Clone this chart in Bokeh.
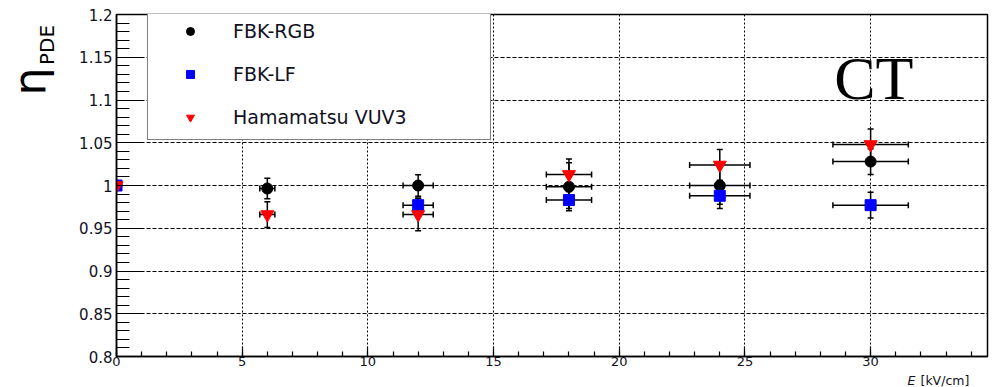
from math import pi

from bokeh.core.properties import value
from bokeh.embed import file_html
from bokeh.layouts import column, row
from bokeh.models import (ColumnDataSource, FixedTicker, Legend, LegendItem,
                          Range1d, TeeHead, Whisker)
from bokeh.plotting import figure
from bokeh.resources import INLINE

# Relative PDE vs drift field, normalised to the zero-field value
E_rgb = [0, 6, 12, 18, 24, 30]
pde_rgb = [1.0, 0.9965, 1.0, 0.9985, 1.0, 1.028]
err_rgb = [0.0, 0.012, 0.0125, 0.028, 0.027, 0.015]
xerr_rgb = [0.0, 0.3, 0.6, 0.9, 1.2, 1.5]

E_lf = [0, 12, 18, 24, 30]
pde_lf = [1.0, 0.977, 0.983, 0.988, 0.977]
err_lf = [0.0, 0.008, 0.01, 0.01, 0.015]
xerr_lf = [0.0, 0.6, 0.9, 1.2, 1.5]

E_vuv = [0, 6, 12, 18, 24, 30]
pde_vuv = [1.0, 0.966, 0.966, 1.013, 1.024, 1.048]
err_vuv = [0.0, 0.015, 0.019, 0.018, 0.018, 0.018]
xerr_vuv = [0.0, 0.3, 0.6, 0.9, 1.2, 1.5]

series_names = ["FBK-RGB", "FBK-LF", "Hamamatsu VUV3"]
x_ticks = [0, 5, 10, 15, 20, 25, 30]
y_ticks = [0.8, 0.85, 0.9, 0.95, 1.0, 1.05, 1.1, 1.15, 1.2]
y_tick_text = {0.8: "0.8", 0.85: "0.85", 0.9: "0.9", 0.95: "0.95", 1.0: "1",
               1.05: "1.05", 1.1: "1.1", 1.15: "1.15", 1.2: "1.2"}

FONT = "DejaVu Sans"
W, H = 1005, 387
LEFT_W = 60          # strip holding the vertical axis title
MAIN_H = 372         # main plot; the strip below holds the x-axis title


def blank_strip(width, height):
    f = figure(width=width, height=height, output_backend="svg", toolbar_location=None,
               x_range=Range1d(0, width), y_range=Range1d(0, height),
               x_axis_type=None, y_axis_type=None, min_border=0)
    f.outline_line_color = None
    f.background_fill_color = "white"
    f.border_fill_color = "white"
    return f


# ---- main plot -------------------------------------------------------------
p = figure(width=W - LEFT_W, height=MAIN_H, output_backend="svg", toolbar_location=None,
           x_range=Range1d(0, 34.65), y_range=Range1d(0.8, 1.2),
           min_border_left=56, min_border_right=18, min_border_top=14,
           min_border_bottom=16)
p.background_fill_color = "white"
p.border_fill_color = "white"
p.outline_line_color = "black"
p.outline_line_width = 1.5

# ROOT style axes: ticks pointing inward
p.xaxis.ticker = FixedTicker(ticks=x_ticks, minor_ticks=list(range(0, 35)))
p.yaxis.ticker = FixedTicker(ticks=y_ticks,
                             minor_ticks=[round(0.8 + 0.01 * i, 2) for i in range(41)])
p.yaxis.major_label_overrides = y_tick_text
for ax in (p.xaxis, p.yaxis):
    ax.axis_line_color = "black"
    ax.axis_line_width = 1.5
    ax.major_tick_line_color = "black"
    ax.minor_tick_line_color = "black"
    ax.major_tick_line_width = 1.2
    ax.minor_tick_line_width = 1.2
    ax.major_tick_out = 0
    ax.minor_tick_out = 0
    ax.major_label_text_font = FONT
    ax.major_label_text_color = "#111122"
p.xaxis.major_label_text_font_size = "13px"
p.yaxis.major_label_text_font_size = "15px"
p.xaxis.major_tick_in = 10
p.xaxis.minor_tick_in = 5
p.xaxis.major_label_standoff = 0
p.yaxis.major_tick_in = 27
p.yaxis.minor_tick_in = 13
p.yaxis.major_label_standoff = 4

p.xgrid.grid_line_color = "black"
p.xgrid.grid_line_dash = "2 2"
p.xgrid.grid_line_width = 1
p.ygrid.grid_line_color = "black"
p.ygrid.grid_line_dash = "4 2"
p.ygrid.grid_line_width = 1


def draw_series(xs, ys, ey, ex, marker, color, size):
    src = ColumnDataSource(dict(
        x=xs, y=ys,
        ylo=[v - e for v, e in zip(ys, ey)], yhi=[v + e for v, e in zip(ys, ey)],
        xlo=[v - e for v, e in zip(xs, ex)], xhi=[v + e for v, e in zip(xs, ex)],
    ))
    for base, lo, hi, dim in (("x", "ylo", "yhi", "height"), ("y", "xlo", "xhi", "width")):
        p.add_layout(Whisker(
            source=src, base=base, lower=lo, upper=hi, dimension=dim,
            line_color="black", line_width=1.5,
            lower_head=TeeHead(size=6, line_color="black", line_width=1.5),
            upper_head=TeeHead(size=6, line_color="black", line_width=1.5)))
    return p.scatter("x", "y", source=src, marker=marker, size=size,
                     fill_color=color, line_color=color)


r_rgb = draw_series(E_rgb, pde_rgb, err_rgb, xerr_rgb, "circle", "black", 11)
r_lf = draw_series(E_lf, pde_lf, err_lf, xerr_lf, "square", "#0000ff", 11)
r_vuv = draw_series(E_vuv, pde_vuv, err_vuv, xerr_vuv, "inverted_triangle", "#ff0000", 13)

legend = Legend(items=[LegendItem(label=series_names[0], renderers=[r_rgb]),
                       LegendItem(label=series_names[1], renderers=[r_lf]),
                       LegendItem(label=series_names[2], renderers=[r_vuv])],
                location=(31, 216))
legend.margin = 0
legend.padding = 11
legend.spacing = 21
legend.glyph_width = 62
legend.glyph_height = 20
legend.label_height = 20
legend.label_width = 246
legend.label_standoff = 12
legend.label_text_font = FONT
legend.label_text_font_size = "19px"
legend.label_text_color = "#111122"
legend.label_text_baseline = "middle"
legend.border_line_color = "black"
legend.border_line_width = 1.5
legend.background_fill_color = "white"
legend.background_fill_alpha = 1.0
p.add_layout(legend, "center")

# panel tag
p.text(x=[28.55], y=[1.1263], text=["CT"], text_font=value("Liberation Serif"),
       text_font_size="62px", text_align="left", text_baseline="middle",
       text_color="black")

# ---- vertical axis title: eta with subscript PDE ---------------------------
left = blank_strip(LEFT_W, MAIN_H)
left.text(x=[29], y=[MAIN_H - 88], text=["η"], angle=pi / 2, text_font=value(FONT),
          text_font_size="44px", text_align="left", text_baseline="middle",
          text_color="black")
left.text(x=[46], y=[MAIN_H - 55], text=["PDE"], angle=pi / 2, text_font=value(FONT),
          text_font_size="20px", text_align="left", text_baseline="middle",
          text_color="black")

# ---- horizontal axis title, right part of the strip under the frame --------
bottom = blank_strip(W, H - MAIN_H)
bottom.text(x=[907], y=[7.5], text=["E"], text_font=value(FONT),
            text_font_size="12.5px", text_font_style="italic", text_align="left",
            text_baseline="middle", text_color="#111122")
bottom.text(x=[920], y=[7.5], text=["[kV/cm]"], text_font=value(FONT),
            text_font_size="12.5px", text_align="left", text_baseline="middle",
            text_color="#111122")

layout = column(row(left, p, spacing=0), bottom, spacing=0)
open("out.html", "w").write(file_html(layout, INLINE))
